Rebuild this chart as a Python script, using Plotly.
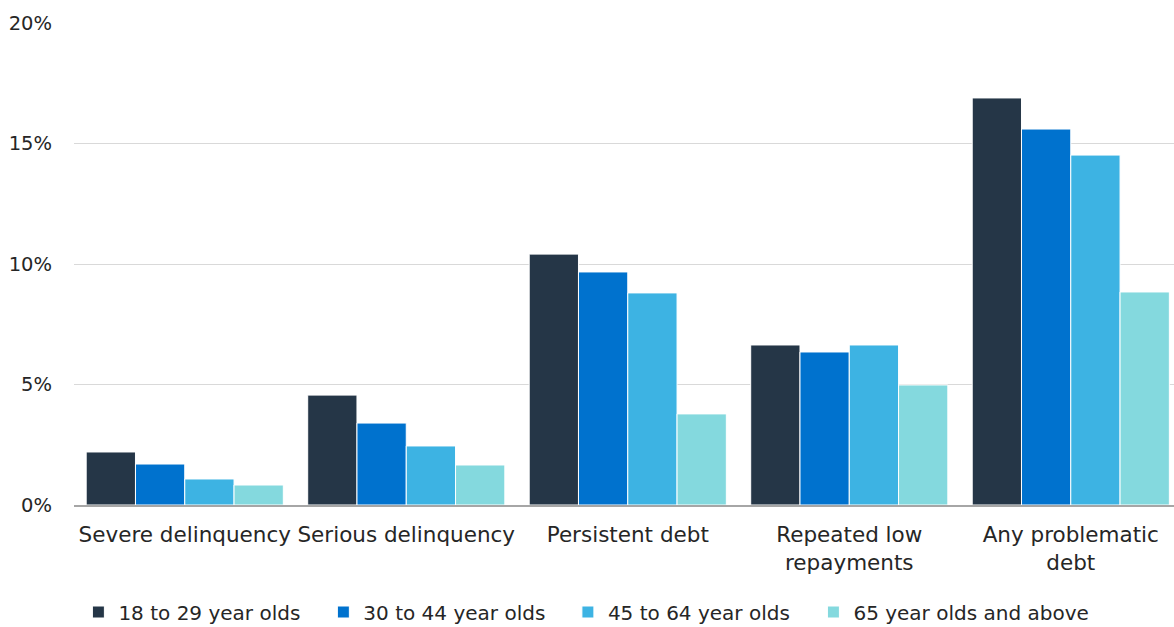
import plotly.graph_objects as go

categories = ["Severe delinquency", "Serious delinquency", "Persistent debt",
              "Repeated low<br>repayments", "Any problematic<br>debt"]
series_names = ["18 to 29 year olds", "30 to 44 year olds",
                "45 to 64 year olds", "65 year olds and above"]
age_18_29 = [0.022, 0.0456, 0.1041, 0.0664, 0.1689]
age_30_44 = [0.017, 0.034, 0.0967, 0.0635, 0.156]
age_45_64 = [0.0108, 0.0245, 0.088, 0.0664, 0.1452]
age_65_plus = [0.0083, 0.0166, 0.0378, 0.0498, 0.0884]
colors = ["#253647", "#0072CE", "#3DB3E3", "#84D9DE"]
y_ticks = [0, 0.05, 0.10, 0.15, 0.20]
y_tick_labels = ["0%", "5%", "10%", "15%", "20%"]

# left edge of each legend entry, as a fraction of the plot width
legend_x = [0.004, 0.2267, 0.449, 0.6722]

FONT = "DejaVu Sans"
TEXT = "#262626"

fig = go.Figure()
legend_ids = ["legend", "legend2", "legend3", "legend4"]
for name, vals, col, lid in zip(series_names,
                                [age_18_29, age_30_44, age_45_64, age_65_plus],
                                colors, legend_ids):
    fig.add_trace(go.Bar(
        x=list(range(len(categories))), y=vals, name=name, legend=lid,
        marker=dict(color=col, line=dict(color="white", width=1)),
    ))

layout_legends = {}
for lid, lx in zip(legend_ids, legend_x):
    layout_legends[lid] = dict(
        orientation="h", x=lx, xanchor="left", y=-0.222, yanchor="middle",
        font=dict(size=20, family=FONT, color=TEXT), itemwidth=30,
        bgcolor="rgba(0,0,0,0)",
    )

fig.update_layout(
    width=1174, height=627,
    margin=dict(l=74, r=0, t=23, b=122, autoexpand=False),
    paper_bgcolor="white", plot_bgcolor="white",
    barmode="group", bargap=0.11, bargroupgap=0,
    font=dict(family=FONT, size=20, color=TEXT),
    showlegend=True,
    xaxis=dict(
        tickmode="array", tickvals=list(range(len(categories))),
        ticktext=categories, range=[-0.5, 4.466],
        showline=True, linecolor="#A6A6A6", linewidth=2,
        ticks="", showgrid=False, zeroline=False,
        tickfont=dict(size=21.5), ticklabelstandoff=9,
    ),
    yaxis=dict(
        range=[0, 0.2], tickvals=y_ticks, ticktext=y_tick_labels,
        showgrid=True, gridcolor="#D9D9D9", gridwidth=1,
        zeroline=False, showline=False, ticks="",
        ticklabelstandoff=21, tickfont=dict(size=19.5),
    ),
    **layout_legends,
)

fig.write_html("out.html")
